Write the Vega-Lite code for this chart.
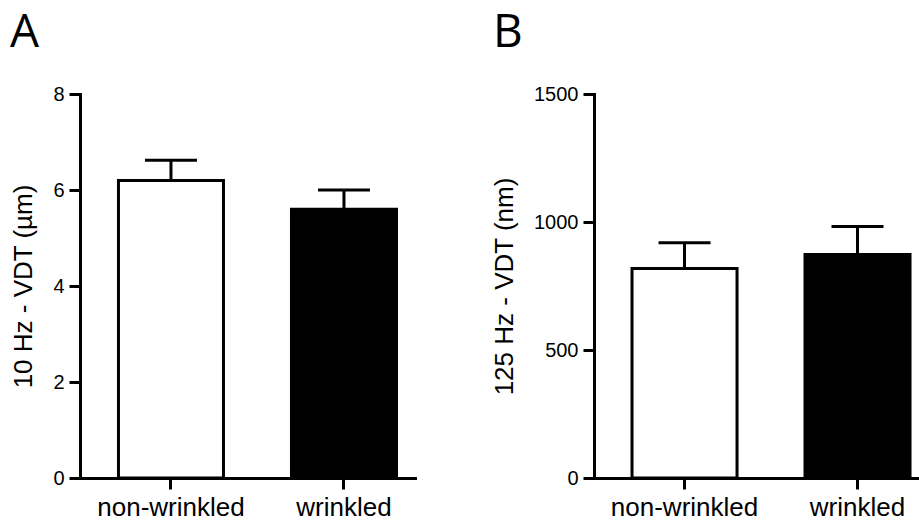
{
  "$schema": "https://vega.github.io/schema/vega-lite/v6.json",
  "background": "white",
  "padding": {"left": 10, "top": 10, "right": 0, "bottom": 0},
  "spacing": 76,
  "datasets": {
    "a": [
      {"group": "non-wrinkled", "mean": 6.2, "upper": 6.62},
      {"group": "wrinkled", "mean": 5.6, "upper": 6.0}
    ],
    "b": [
      {"group": "non-wrinkled", "mean": 818, "upper": 919},
      {"group": "wrinkled", "mean": 873, "upper": 982}
    ]
  },
  "hconcat": [
    {
      "width": 335,
      "height": 384,
      "title": {"text": "A", "anchor": "start", "frame": "group", "dx": -70, "fontSize": 46, "font": "Open Sans", "fontWeight": "normal", "offset": 27, "color": "black"},
      "data": {"name": "a"},
      "encoding": {
        "x": {"field": "group", "type": "nominal", "sort": ["non-wrinkled", "wrinkled"],
              "scale": {"paddingInner": 0.393, "paddingOuter": 0.1647, "align": 0.675},
              "axis": {"title": null}}
      },
      "layer": [
        {
          "mark": {"type": "bar", "stroke": "black", "strokeWidth": 3},
          "encoding": {
            "y": {"field": "mean", "type": "quantitative", "scale": {"domain": [0, 8], "nice": false},
                  "axis": {"values": [0, 2, 4, 6, 8], "format": "d", "title": "10 Hz - VDT (µm)"}},
            "fill": {"field": "group", "type": "nominal", "scale": {"domain": ["non-wrinkled", "wrinkled"], "range": ["white", "black"]}, "legend": null}
          }
        },
        {
          "mark": {"type": "rule", "strokeWidth": 3, "color": "black"},
          "encoding": {
            "y": {"field": "mean", "type": "quantitative", "scale": {"domain": [0, 8], "nice": false}, "axis": {"values": [0, 2, 4, 6, 8], "format": "d", "title": "10 Hz - VDT (µm)"}},
            "y2": {"field": "upper"}
          }
        },
        {
          "mark": {"type": "tick", "size": 52, "thickness": 3, "color": "black", "opacity": 1},
          "encoding": {
            "y": {"field": "upper", "type": "quantitative", "scale": {"domain": [0, 8], "nice": false}, "axis": {"values": [0, 2, 4, 6, 8], "format": "d", "title": "10 Hz - VDT (µm)"}}
          }
        }
      ]
    },
    {
      "width": 327,
      "height": 384,
      "title": {"text": "B", "anchor": "start", "frame": "group", "dx": -101, "fontSize": 46, "font": "Open Sans", "fontWeight": "normal", "offset": 27, "color": "black"},
      "data": {"name": "b"},
      "encoding": {
        "x": {"field": "group", "type": "nominal", "sort": ["non-wrinkled", "wrinkled"],
              "scale": {"paddingInner": 0.393, "paddingOuter": 0.1416, "align": 0.776},
              "axis": {"title": null}}
      },
      "layer": [
        {
          "mark": {"type": "bar", "stroke": "black", "strokeWidth": 3},
          "encoding": {
            "y": {"field": "mean", "type": "quantitative", "scale": {"domain": [0, 1500], "nice": false},
                  "axis": {"values": [0, 500, 1000, 1500], "format": "d", "title": "125 Hz - VDT (nm)"}},
            "fill": {"field": "group", "type": "nominal", "scale": {"domain": ["non-wrinkled", "wrinkled"], "range": ["white", "black"]}, "legend": null}
          }
        },
        {
          "mark": {"type": "rule", "strokeWidth": 3, "color": "black"},
          "encoding": {
            "y": {"field": "mean", "type": "quantitative", "scale": {"domain": [0, 1500], "nice": false}, "axis": {"values": [0, 500, 1000, 1500], "format": "d", "title": "125 Hz - VDT (nm)"}},
            "y2": {"field": "upper"}
          }
        },
        {
          "mark": {"type": "tick", "size": 52, "thickness": 3, "color": "black", "opacity": 1},
          "encoding": {
            "y": {"field": "upper", "type": "quantitative", "scale": {"domain": [0, 1500], "nice": false}, "axis": {"values": [0, 500, 1000, 1500], "format": "d", "title": "125 Hz - VDT (nm)"}}
          }
        }
      ]
    }
  ],
  "config": {
    "view": {"stroke": null},
    "axis": {
      "grid": false,
      "domainColor": "black",
      "domainWidth": 3,
      "domainCap": "square",
      "tickColor": "black",
      "tickWidth": 3,
      "tickSize": 11,
      "labelFont": "Liberation Sans",
      "labelFontSize": 20,
      "labelColor": "black",
      "titleFont": "Liberation Sans",
      "titleFontSize": 26,
      "titleFontWeight": "normal",
      "titleColor": "black"
    },
    "axisX": {"labelFontSize": 26, "labelAngle": 0, "labelPadding": 5},
    "axisY": {"labelPadding": 5, "titlePadding": 16}
  }
}
